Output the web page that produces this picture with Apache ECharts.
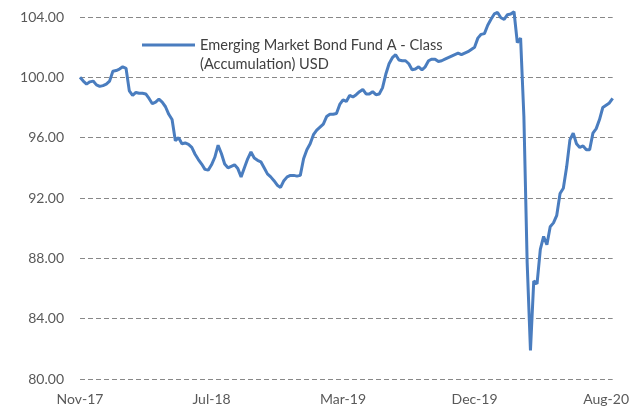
<!DOCTYPE html>
<html>
<head>
<meta charset="utf-8">
<script src="https://cdn.jsdelivr.net/npm/echarts@6/dist/echarts.min.js"></script>
<style>
html,body{margin:0;padding:0;background:#fff;}
#chart{width:632px;height:410px;}
</style>
</head>
<body>
<div id="chart"></div>
<script>
// Tick labels shown under the x axis (evenly spaced, every labelStep points)
const tickLabels = ['Nov-17', 'Jul-18', 'Mar-19', 'Dec-19', 'Aug-20'];
const labelStep = 40;
const seriesName = 'Emerging Market Bond Fund A - Class (Accumulation) USD';
const legendLines = ['Emerging Market Bond Fund A - Class', '(Accumulation) USD'];
// Fund values
const values = [
  100.0, 99.75, 99.55, 99.7, 99.75, 99.5, 99.4, 99.45, 99.55, 99.75,
  100.4, 100.45, 100.55, 100.7, 100.6, 99.1, 98.8, 99.0, 98.95, 98.95,
  98.9, 98.6, 98.25, 98.35, 98.55, 98.35, 98.05, 97.55, 97.2, 95.8,
  96.0, 95.6, 95.65, 95.55, 95.35, 94.9, 94.55, 94.25, 93.9, 93.85,
  94.2, 94.7, 95.5, 94.95, 94.25, 94.0, 94.1, 94.2, 93.95, 93.4,
  94.0, 94.6, 95.05, 94.65, 94.5, 94.4, 94.0, 93.6, 93.4, 93.15,
  92.85, 92.7, 93.15, 93.4, 93.5, 93.5, 93.45, 93.5, 94.6, 95.2,
  95.6, 96.2, 96.5, 96.7, 96.9, 97.4, 97.55, 97.55, 97.6, 98.2,
  98.5, 98.4, 98.8, 98.7, 98.85, 99.05, 99.2, 98.9, 98.9, 99.05,
  98.85, 98.9, 99.3, 100.2, 100.9, 101.3, 101.5, 101.15, 101.1, 101.1,
  100.9, 100.5, 100.55, 100.7, 100.5, 100.7, 101.1, 101.2, 101.2, 101.05,
  101.1, 101.2, 101.3, 101.4, 101.5, 101.6, 101.5, 101.6, 101.7, 101.85,
  102.0, 102.6, 102.85, 102.9, 103.45, 103.85, 104.2, 104.3, 103.95, 103.85,
  104.15, 104.2, 104.35, 102.3, 102.6, 97.4, 87.7, 81.9, 86.5, 86.3,
  88.6, 89.45, 88.9, 90.1, 90.35, 90.85, 92.3, 92.65, 94.05, 95.85,
  96.3, 95.6, 95.35, 95.45, 95.2, 95.2, 96.3, 96.6, 97.2, 98.0,
  98.15, 98.3, 98.6
];
const categories = values.map((_, i) => String(i));

const chart = echarts.init(document.getElementById('chart'), null, {renderer: 'canvas'});
const lineColor = '#4A7DBF';
const textColor = '#595959';
const fontFamily = 'Lato, "Open Sans", sans-serif';

chart.setOption({
  animation: false,
  backgroundColor: '#ffffff',
  grid: {left: 80, right: 17.4, top: 17, bottom: 31, containLabel: false},
  xAxis: {
    type: 'category',
    data: categories,
    boundaryGap: false,
    axisLine: {show: false},
    axisTick: {show: false},
    splitLine: {show: false},
    axisLabel: {
      interval: (idx) => idx % labelStep === 0,
      formatter: (v, idx) => tickLabels[Math.round(idx / labelStep)] || '',
      color: textColor,
      fontFamily: fontFamily,
      fontSize: 14,
      margin: 13
    }
  },
  yAxis: {
    type: 'value',
    min: 80,
    max: 104,
    interval: 4,
    axisLine: {show: false},
    axisTick: {show: false},
    axisLabel: {
      formatter: (v) => v.toFixed(2),
      color: textColor,
      fontFamily: fontFamily,
      fontSize: 14,
      margin: 16
    },
    splitLine: {
      show: true,
      lineStyle: {color: '#888888', width: 1.2, type: [5, 3]}
    }
  },
  graphic: [
    {type: 'line', shape: {x1: 142, y1: 45, x2: 195, y2: 45}, style: {stroke: lineColor, lineWidth: 3}},
    {type: 'text', x: 200, y: 45, style: {text: legendLines[0], fill: '#404040', font: '14.6px ' + fontFamily, textVerticalAlign: 'middle'}},
    {type: 'text', x: 200, y: 64, style: {text: legendLines[1], fill: '#404040', font: '14.6px ' + fontFamily, textVerticalAlign: 'middle'}}
  ],
  series: [{
    name: seriesName,
    type: 'line',
    data: values,
    showSymbol: false,
    smooth: false,
    clip: false,
    lineStyle: {color: lineColor, width: 3},
    itemStyle: {color: lineColor}
  }]
});
</script>
</body>
</html>
